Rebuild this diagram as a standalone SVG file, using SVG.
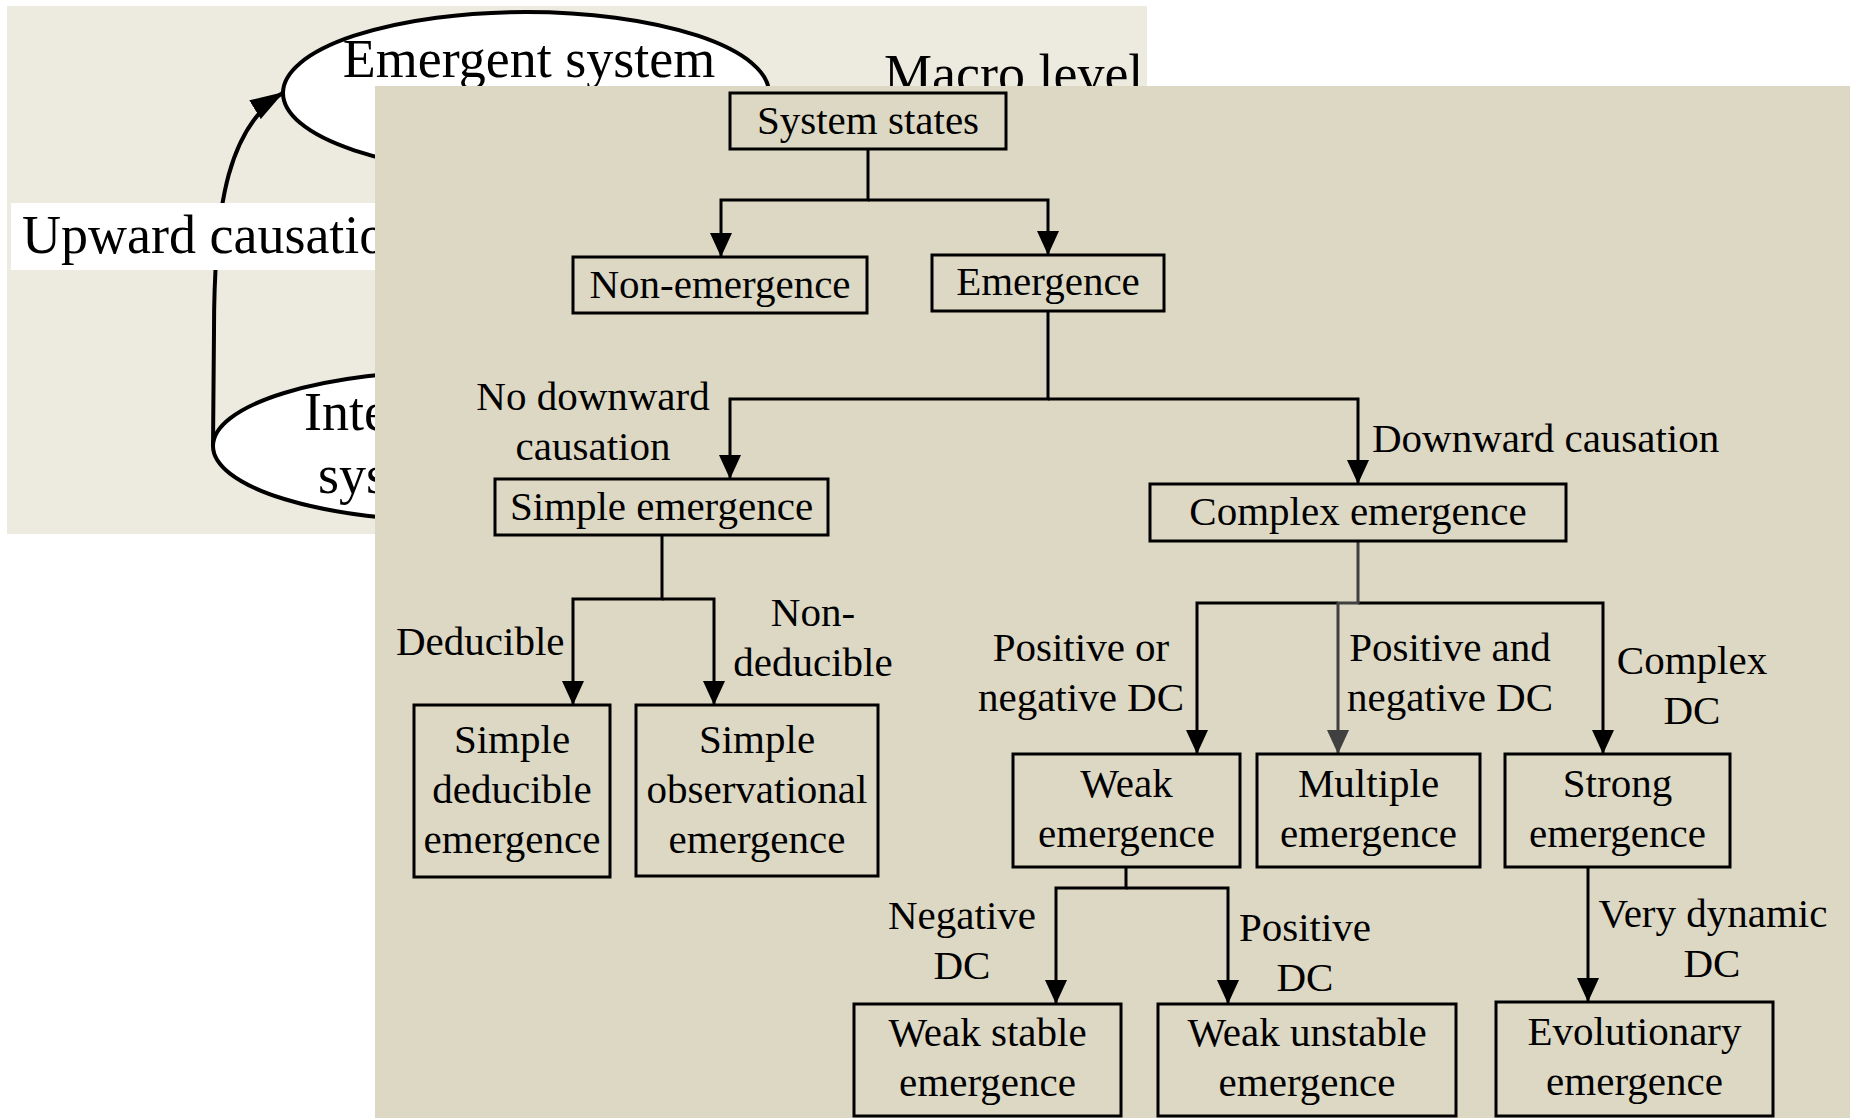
<svg xmlns="http://www.w3.org/2000/svg" width="1858" height="1118" viewBox="0 0 1858 1118">
  <style>
    text { font-family: "Liberation Serif", "Times New Roman", serif; fill: #000; }
    .big { font-size: 54px; }
    .t { font-size: 41px; }
    .mid { text-anchor: middle; }
    .box { fill: none; stroke: #000; stroke-width: 3; }
    .oval { fill: #fff; stroke: #000; stroke-width: 4; }
    .wire { fill: none; stroke: #000; stroke-width: 3; stroke-linejoin: miter; }
    .wire-gray { fill: none; stroke: #404040; stroke-width: 3; }
  </style>
  <defs>
    <marker id="arrow" viewBox="0 0 24 22" markerWidth="24" markerHeight="22" refX="24" refY="11" orient="auto" markerUnits="userSpaceOnUse">
      <path d="M0 0 L24 11 L0 22 z" fill="#000"/>
    </marker>
    <marker id="arrow-gray" viewBox="0 0 24 22" markerWidth="24" markerHeight="22" refX="24" refY="11" orient="auto" markerUnits="userSpaceOnUse">
      <path d="M0 0 L24 11 L0 22 z" fill="#404040"/>
    </marker>
    <marker id="arrow-big" viewBox="0 0 34 22" markerWidth="34" markerHeight="22" refX="34" refY="11" orient="auto" markerUnits="userSpaceOnUse">
      <path d="M0 0 L34 11 L0 22 z" fill="#000"/>
    </marker>
  </defs>

  <!-- Background sheet: micro/macro loop -->
  <g id="loop-sheet">
    <rect x="7" y="6" width="1140" height="528" fill="#EDEBE0"/>
    <g id="emergent-system">
      <ellipse class="oval" cx="526" cy="93" rx="243" ry="81"/>
      <text class="big mid" x="529" y="77">Emergent system</text>
    </g>
    <text id="macro-level" class="big" x="884" y="92">Macro level</text>
    <g id="interacting-system">
      <ellipse class="oval" cx="456" cy="446" rx="243" ry="75"/>
      <text class="big" x="304" y="430">Inte</text>
      <text class="big" x="318" y="493">sys</text>
    </g>
    <g id="upward-link">
      <path d="M213 447 L214 330 C214 200 230 125 284 92" fill="none" stroke="#000" stroke-width="4" marker-end="url(#arrow-big)"/>
      <rect x="11" y="203" width="420" height="67" fill="#fff"/>
      <text class="big" x="22" y="253">Upward causation</text>
    </g>
  </g>

  <!-- Foreground sheet: classification tree -->
  <rect id="tree-sheet" x="375" y="86" width="1475" height="1032" fill="#DDD8C4"/>

  <g id="connectors">
    <path class="wire" d="M868 149 V200 H721 V257" marker-end="url(#arrow)"/>
    <path class="wire" d="M868 200 H1048 V255" marker-end="url(#arrow)"/>
    <path class="wire" d="M1048 311 V399 H730 V479" marker-end="url(#arrow)"/>
    <path class="wire" d="M1048 399 H1358 V484" marker-end="url(#arrow)"/>
    <path class="wire" d="M662 535 V599 H573 V705" marker-end="url(#arrow)"/>
    <path class="wire" d="M662 599 H714 V705" marker-end="url(#arrow)"/>
    <path class="wire" d="M1338 603 H1197 V754" marker-end="url(#arrow)"/>
    <path class="wire" d="M1358 603 H1603 V754" marker-end="url(#arrow)"/>
    <path class="wire-gray" d="M1358 541 V603 H1338 V754" marker-end="url(#arrow-gray)"/>
    <path class="wire" d="M1126 867 V888 H1056 V1004" marker-end="url(#arrow)"/>
    <path class="wire" d="M1126 888 H1228 V1004" marker-end="url(#arrow)"/>
    <path class="wire" d="M1588 867 V1002" marker-end="url(#arrow)"/>

    <g id="edge-labels" class="t">
      <text class="mid" x="593" y="410">No downward</text>
      <text class="mid" x="593" y="460">causation</text>
      <text x="1372" y="452">Downward causation</text>
      <text x="396" y="655">Deducible</text>
      <text class="mid" x="813" y="626">Non-</text>
      <text class="mid" x="813" y="676">deducible</text>
      <text class="mid" x="1081" y="661">Positive or</text>
      <text class="mid" x="1081" y="711">negative DC</text>
      <text class="mid" x="1450" y="661">Positive and</text>
      <text class="mid" x="1450" y="711">negative DC</text>
      <text class="mid" x="1692" y="674">Complex</text>
      <text class="mid" x="1692" y="724">DC</text>
      <text class="mid" x="962" y="929">Negative</text>
      <text class="mid" x="962" y="979">DC</text>
      <text class="mid" x="1305" y="941">Positive</text>
      <text class="mid" x="1305" y="991">DC</text>
      <text class="mid" x="1713" y="927">Very dynamic</text>
      <text class="mid" x="1712" y="977">DC</text>
    </g>
  </g>

  <g id="system-states">
    <rect class="box" x="730" y="93" width="276" height="56"/>
    <text class="t mid" x="868" y="134">System states</text>
  </g>
  <g id="non-emergence">
    <rect class="box" x="573" y="257" width="294" height="56"/>
    <text class="t mid" x="720" y="298">Non-emergence</text>
  </g>
  <g id="emergence">
    <rect class="box" x="932" y="255" width="232" height="56"/>
    <text class="t mid" x="1048" y="295">Emergence</text>
  </g>
  <g id="simple-emergence">
    <rect class="box" x="495" y="479" width="333" height="56"/>
    <text class="t mid" x="661.5" y="520">Simple emergence</text>
  </g>
  <g id="complex-emergence">
    <rect class="box" x="1150" y="484" width="416" height="57"/>
    <text class="t mid" x="1358" y="525">Complex emergence</text>
  </g>
  <g id="simple-deducible">
    <rect class="box" x="414" y="705" width="196" height="172"/>
    <text class="t mid" x="512" y="753">Simple</text>
    <text class="t mid" x="512" y="803">deducible</text>
    <text class="t mid" x="512" y="853">emergence</text>
  </g>
  <g id="simple-observational">
    <rect class="box" x="636" y="705" width="242" height="171"/>
    <text class="t mid" x="757" y="753">Simple</text>
    <text class="t mid" x="757" y="803">observational</text>
    <text class="t mid" x="757" y="853">emergence</text>
  </g>
  <g id="weak-emergence">
    <rect class="box" x="1013" y="754" width="227" height="113"/>
    <text class="t mid" x="1126.5" y="797">Weak</text>
    <text class="t mid" x="1126.5" y="847">emergence</text>
  </g>
  <g id="multiple-emergence">
    <rect class="box" x="1257" y="754" width="223" height="113"/>
    <text class="t mid" x="1368.5" y="797">Multiple</text>
    <text class="t mid" x="1368.5" y="847">emergence</text>
  </g>
  <g id="strong-emergence">
    <rect class="box" x="1505" y="754" width="225" height="113"/>
    <text class="t mid" x="1617.5" y="797">Strong</text>
    <text class="t mid" x="1617.5" y="847">emergence</text>
  </g>
  <g id="weak-stable">
    <rect class="box" x="854" y="1004" width="267" height="112"/>
    <text class="t mid" x="987.5" y="1046">Weak stable</text>
    <text class="t mid" x="987.5" y="1096">emergence</text>
  </g>
  <g id="weak-unstable">
    <rect class="box" x="1158" y="1004" width="298" height="112"/>
    <text class="t mid" x="1307" y="1046">Weak unstable</text>
    <text class="t mid" x="1307" y="1096">emergence</text>
  </g>
  <g id="evolutionary">
    <rect class="box" x="1496" y="1002" width="277" height="114"/>
    <text class="t mid" x="1634.5" y="1045">Evolutionary</text>
    <text class="t mid" x="1634.5" y="1095">emergence</text>
  </g>
</svg>
